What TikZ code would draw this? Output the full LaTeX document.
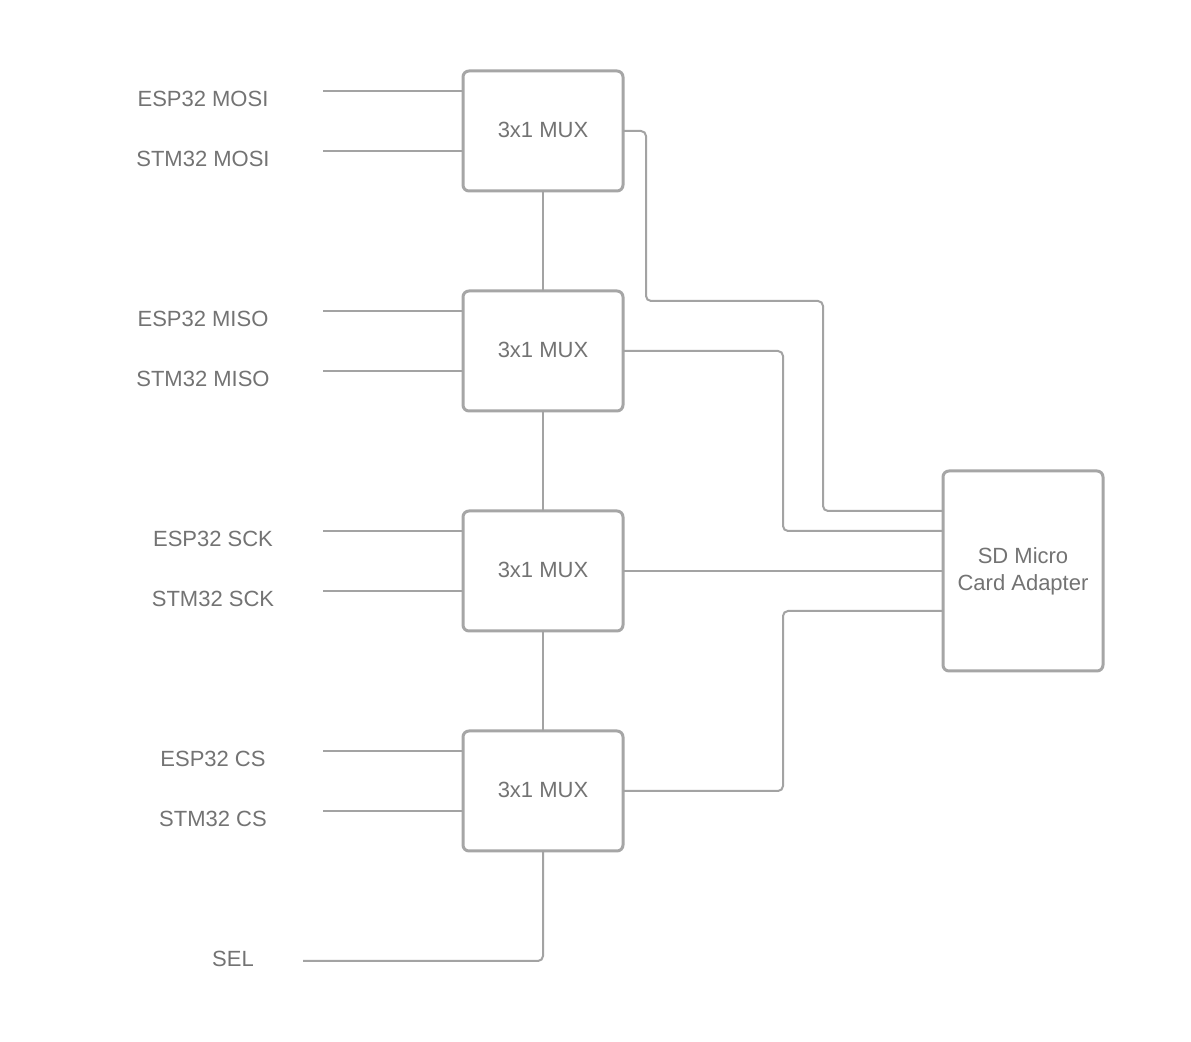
\documentclass[tikz,border=0pt]{standalone}
\usepackage{fontspec}
\setmainfont{Liberation Sans}
\definecolor{linegray}{HTML}{A3A3A3}
\definecolor{boxgray}{HTML}{A6A6A6}
\definecolor{txtgray}{HTML}{737373}
\begin{document}
\begin{tikzpicture}[x=0.5pt,y=-0.5pt,
  muxbox/.style={draw=boxgray,line width=1.5pt,rounded corners=3pt,minimum width=80pt,minimum height=60pt,inner sep=0pt,outer sep=0pt,text=txtgray,font=\fontsize{11}{13}\selectfont},
  sdbox/.style={draw=boxgray,line width=1.5pt,rounded corners=3pt,minimum width=80pt,minimum height=100pt,inner sep=0pt,outer sep=0pt,text=txtgray,align=center,font=\fontsize{11}{13.5}\selectfont},
  lbl/.style={text=txtgray,inner sep=0pt,font=\fontsize{11}{13}\selectfont},
  wire/.style={draw=linegray,line width=1pt,rounded corners=2.5pt}]
\useasboundingbox[fill=white] (0,0) rectangle (1191,1042);

% MUX boxes
\node[muxbox] (m1) at (543,131) {\raisebox{1pt}{3x1 MUX}};
\node[muxbox] (m2) at (543,351) {\raisebox{1pt}{3x1 MUX}};
\node[muxbox] (m3) at (543,571) {\raisebox{1pt}{3x1 MUX}};
\node[muxbox] (m4) at (543,791) {\raisebox{1pt}{3x1 MUX}};
\node[sdbox] (sd) at (1023,571) {SD Micro\\Card Adapter};

% labels
\node[lbl] (l1) at (203,99) {ESP32 MOSI};
\node[lbl] (l2) at (203,159) {STM32 MOSI};
\node[lbl] (l3) at (203,319) {ESP32 MISO};
\node[lbl] (l4) at (203,379) {STM32 MISO};
\node[lbl] (l5) at (213,539) {ESP32 SCK};
\node[lbl] (l6) at (213,599) {STM32 SCK};
\node[lbl] (l7) at (213,759) {ESP32 CS};
\node[lbl] (l8) at (213,819) {STM32 CS};
\node[lbl] (l9) at (233,959) {SEL};

% input line start points
\coordinate (i1) at (323,91);
\coordinate (i2) at (323,151);
\coordinate (i3) at (323,311);
\coordinate (i4) at (323,371);
\coordinate (i5) at (323,531);
\coordinate (i6) at (323,591);
\coordinate (i7) at (323,751);
\coordinate (i8) at (323,811);
\coordinate (sel) at (303,961);

\foreach \i/\m in {i1/m1,i2/m1,i3/m2,i4/m2,i5/m3,i6/m3,i7/m4,i8/m4}
  \draw[wire] (\i) -- (\m.west |- \i);

% select chain
\draw[wire] (m1.south) -- (m2.north);
\draw[wire] (m2.south) -- (m3.north);
\draw[wire] (m3.south) -- (m4.north);
\draw[wire] (m4.south) -- (543,961) -- (sel);

% outputs to SD adapter
\draw[wire] (m1.east) -- (646,131) -- (646,301) -- (823,301) -- (823,511) -- (sd.west |- 0,511);
\draw[wire] (m2.east) -- (783,351) -- (783,531) -- (sd.west |- 0,531);
\draw[wire] (m3.east) -- (sd.west);
\draw[wire] (m4.east) -- (783,791) -- (783,611) -- (sd.west |- 0,611);
\end{tikzpicture}
\end{document}
